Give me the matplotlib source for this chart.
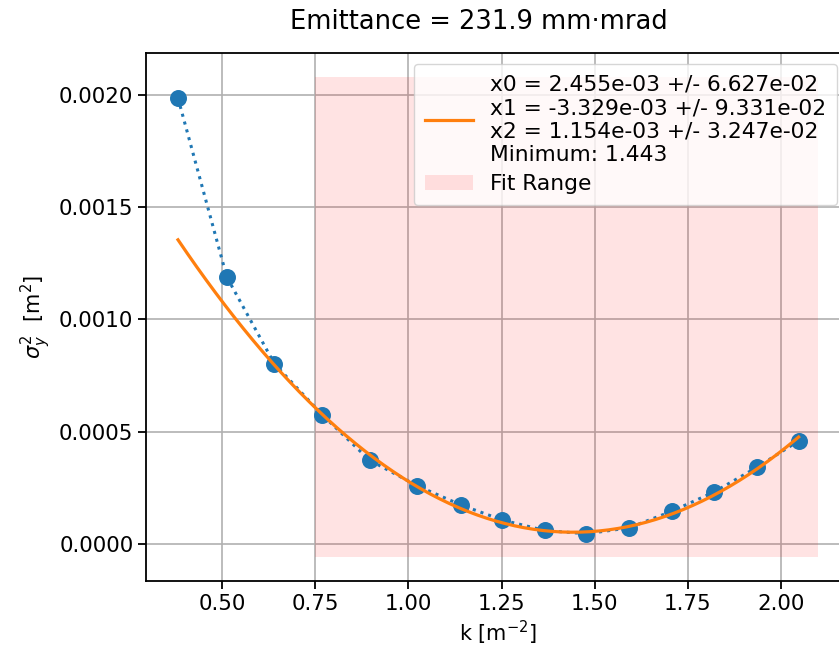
import numpy as np
import matplotlib
matplotlib.use("Agg")
import matplotlib.pyplot as plt

# Data
k_values = [0.381, 0.512, 0.640, 0.769, 0.896, 1.023, 1.140, 1.251,
            1.366, 1.478, 1.593, 1.708, 1.821, 1.935, 2.048]
sigma2_values = [0.001984, 0.001189, 0.000803, 0.000575, 0.000374, 0.000261,
                 0.000176, 0.000109, 0.0000619, 0.0000473, 0.0000738,
                 0.000148, 0.000233, 0.000342, 0.000460]

# Fit parameters shown in the legend (y = x2*k^2 + x1*k + x0)
fit_params = [2.455e-03, -3.329e-03, 1.154e-03]
fit_errors = [6.627e-02, 9.331e-02, 3.247e-02]
fit_minimum = 1.443

fit_range_k = [0.75, 2.1]
fit_range_y = [-0.000056, 0.002078]

title_text = "Emittance = 231.9 mm\u00b7mrad"

plt.rcParams['font.size'] = 15.4
plt.rcParams['font.family'] = ['DejaVu Sans']

fig = plt.figure(figsize=(8.39, 6.51), dpi=100)
ax = fig.add_axes([146 / 839, 1 - 581 / 651, (850 - 146) / 839, (581 - 53) / 651])

k = np.array(k_values)
s2 = np.array(sigma2_values)

ax.plot(k, s2, 'o:', color='C0', markersize=11.2, linewidth=2.2, zorder=3)

# quadratic fit curve evaluated from the legend coefficients
k_fit = np.linspace(k.min(), k.max(), 200)
fit_y = np.polyval(fit_params[::-1], k_fit)
fit_label = "\n".join(
    [f"x{i} = {p:.3e} +/- {e:.3e}" for i, (p, e) in enumerate(zip(fit_params, fit_errors))]
    + [f"Minimum: {fit_minimum:.3f}"]
)
ax.plot(k_fit, fit_y, color='C1', linewidth=2.3, label=fit_label, zorder=4)

ax.fill_between(fit_range_k, fit_range_y[0], fit_range_y[1], color='red',
                alpha=0.11, linewidth=0, label="Fit Range", zorder=1)

ax.grid(True, color='#b0b0b0', linewidth=1.2)
ax.set_axisbelow(True)
for sp in ax.spines.values():
    sp.set_linewidth(1.3)
ax.tick_params(width=1.3, length=5.5)

ax.set_xlabel(r"k [m$^{-2}$]", fontsize=15)
ax.set_ylabel(r"$\sigma_y^2$  [m$^2$]", fontsize=15)
ax.set_title(title_text, fontsize=18.5, pad=17, x=(479 - 146) / (850 - 146))

ax.legend(loc='upper right', fontsize=15.7, borderaxespad=0,
          bbox_to_anchor=(837 / 839, 1 - 64 / 651), bbox_transform=fig.transFigure,
          borderpad=0.5, handlelength=2.2, labelspacing=0.45)

fig.savefig("out.png", dpi=100)
